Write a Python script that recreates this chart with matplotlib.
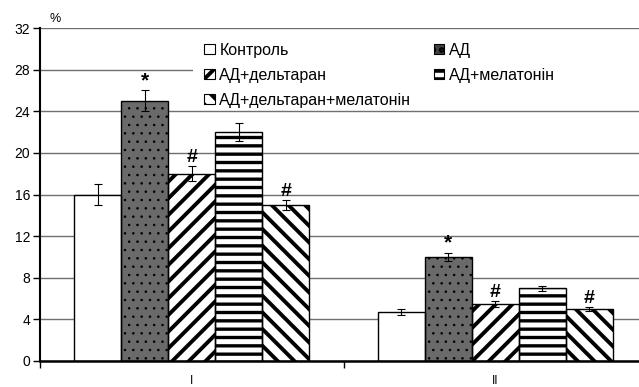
import numpy as np
import matplotlib
matplotlib.use("Agg")
import matplotlib.pyplot as plt
from matplotlib.patches import Rectangle
from matplotlib.transforms import blended_transform_factory

plt.rcParams['font.family'] = ['Liberation Sans', 'DejaVu Sans']

# groups and series
groups = ['I', 'II']
series = ['Контроль', 'АД', 'АД+дельтаран', 'АД+мелатонін', 'АД+дельтаран+мелатонін']
values = [[16.0, 25.0, 18.0, 22.0, 15.0],
          [4.7, 10.0, 5.5, 7.0, 5.0]]
errors = [[1.0, 1.0, 0.75, 0.9, 0.5],
          [0.3, 0.4, 0.3, 0.25, 0.2]]
# significance marks over bars ('' = none)
marks = [['', '*', '#', '', '#'],
         ['', '*', '#', '', '#']]

faces = ['white', '#6a6a6a', 'white', 'white', 'white']
hatches = [None, '..', '//', '--', '\\\\']
hatch_lw = [1.0, 0.6, 2.8, 2.4, 2.8]


def set_hatch_width(patch, lw):
    if hasattr(patch, 'set_hatch_linewidth'):
        patch.set_hatch_linewidth(lw)


fig = plt.figure(figsize=(6.39, 3.87), dpi=100)
ax = fig.add_axes([40/639, 1-361/387, 607/639, 333/387])

width = 0.155
x = np.arange(len(groups))
handles = []
for i, name in enumerate(series):
    pos = x + (i - 2) * width
    vals = [values[g][i] for g in range(len(groups))]
    errs = [errors[g][i] for g in range(len(groups))]
    plt.rcParams['hatch.linewidth'] = hatch_lw[i]
    bars = ax.bar(pos, vals, width, color=faces[i], hatch=hatches[i],
                  edgecolor='black', linewidth=0, zorder=2)
    for p in bars:
        set_hatch_width(p, hatch_lw[i])
    ax.bar(pos, vals, width, fill=False, edgecolor='black', linewidth=1, zorder=3)
    ax.errorbar(pos, vals, yerr=errs, fmt='none', ecolor='black',
                elinewidth=0.8, capsize=3, capthick=0.8, zorder=4)
    h = Rectangle((0, 0), 1, 1, facecolor='#404040' if i == 1 else faces[i],
                  hatch=hatches[i], edgecolor='black', linewidth=0.8)
    set_hatch_width(h, min(hatch_lw[i], 1.5))
    handles.append(h)
    for g in range(len(groups)):
        m = marks[g][i]
        if m:
            ax.annotate(m, (pos[g], vals[g] + errs[g]), xytext=(0, 0),
                        textcoords='offset points', ha='center', va='bottom',
                        fontsize=15 if m == '*' else 14, fontweight='bold', zorder=5)

ax.set_xlim(-0.5, 1.5)
ax.set_ylim(0, 32)
ax.set_yticks(np.arange(0, 33, 4))
ax.tick_params(axis='y', labelsize=10, length=5, width=1, direction='out', pad=2)
ax.set_xticks(x)
ax.set_xticklabels(groups, fontsize=8.5)
ax.tick_params(axis='x', length=0, pad=10)
ax.set_xticks([-0.5, 0.5, 1.5], minor=True)
ax.tick_params(axis='x', which='minor', length=5, width=1, direction='out')

ax.yaxis.grid(True, color='#707070', linewidth=1)
ax.set_axisbelow(True)
for s in ['top', 'right']:
    ax.spines[s].set_visible(False)
ax.spines['left'].set_linewidth(1.5)
ax.spines['bottom'].set_linewidth(1.8)

# white area under the legend hides the grid
ax.add_patch(Rectangle((0.252, 24.6), 0.8, 7.0,
                       transform=blended_transform_factory(ax.transAxes, ax.transData),
                       facecolor='white', edgecolor='none', zorder=1))

order = [0, 2, 4, 1, 3]
leg = ax.legend([handles[k] for k in order], [series[k] for k in order],
                ncol=2, frameon=False, fontsize=11.5, loc='upper left',
                bbox_to_anchor=(0.26, 0.975), handlelength=0.65, handleheight=0.65,
                handletextpad=0.3, labelspacing=0.62, columnspacing=1.4,
                borderaxespad=0)
leg.set_zorder(6)

fig.text(50/639, 1-19/387, '%', fontsize=9, ha='left', va='center')

fig.savefig('out.png', dpi=100)
